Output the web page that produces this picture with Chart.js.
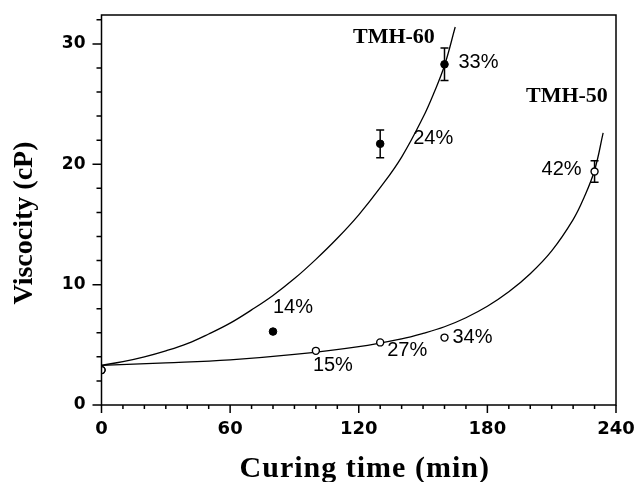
<!DOCTYPE html>
<html lang="en">
<head>
<meta charset="UTF-8">
<title>Viscosity vs curing time</title>
<script src="https://cdn.jsdelivr.net/npm/chart.js@4.4.1/dist/chart.umd.min.js"></script>
<style>
  body { margin: 0; background: #fff; }
  #wrap { width: 636px; height: 482px; }
</style>
</head>
<body>
<div id="wrap"><canvas id="visc" width="636" height="482"></canvas></div>
<script>
// measured viscosity (cP) against curing time (min)
const tmh60Time = [0, 80, 130, 160];
const tmh60Visc = [2.9, 6.1, 21.7, 28.3];
const tmh60Err  = [0, 0, 1.15, 1.35];
const tmh60Conv = ['', '14%', '24%', '33%'];

const tmh50Time = [0, 100, 130, 160, 230];
const tmh50Visc = [2.9, 4.5, 5.2, 5.6, 19.4];
const tmh50Err  = [0, 0, 0, 0, 0.9];
const tmh50Conv = ['', '15%', '27%', '34%', '42%'];

// fitted curves
const fit60Time = [0, 10, 20, 30, 40, 50, 60, 70, 80, 90, 100, 110, 120, 130, 140, 150, 155, 160, 165];
const fit60Visc = [3.3, 3.6, 4.0, 4.5, 5.1, 5.9, 6.8, 7.9, 9.1, 10.5, 12.1, 13.85, 15.8, 18.05, 20.6, 23.9, 25.9, 28.2, 31.4];
const fit50Time = [0, 30, 60, 90, 120, 140, 150, 160, 170, 180, 190, 200, 210, 220, 225, 230, 234];
const fit50Visc = [3.3, 3.5, 3.75, 4.2, 4.85, 5.5, 5.95, 6.5, 7.25, 8.2, 9.4, 10.9, 12.8, 15.4, 17.2, 19.5, 22.6];

const xTicks = [0, 60, 120, 180, 240];
const yTicks = [0, 10, 20, 30];

// label offsets in px from each point: [dx, dy, align]
const conv60Pos = [null, [0, -24, 'left'], [33, -5, 'left'], [14, -2, 'left']];
const conv50Pos = [null, [-3, 15, 'left'], [7, 8, 'left'], [8, 0, 'left'], [-13, -2, 'right']];

const pts = (xs, ys) => xs.map((x, i) => ({ x: x, y: ys[i] }));

const decor = {
  id: 'decor',
  beforeDatasetsDraw(chart) {
    const { ctx, scales: { x, y } } = chart;
    ctx.save();
    ctx.strokeStyle = '#000';
    ctx.lineWidth = 1.5;
    const bars = (xs, ys, es) => xs.forEach((t, i) => {
      if (!es[i]) return;
      const px = x.getPixelForValue(t);
      const top = y.getPixelForValue(ys[i] + es[i]);
      const bot = y.getPixelForValue(ys[i] - es[i]);
      ctx.beginPath();
      ctx.moveTo(px, top); ctx.lineTo(px, bot);
      ctx.moveTo(px - 4, top); ctx.lineTo(px + 4, top);
      ctx.moveTo(px - 4, bot); ctx.lineTo(px + 4, bot);
      ctx.stroke();
    });
    bars(tmh60Time, tmh60Visc, tmh60Err);
    bars(tmh50Time, tmh50Visc, tmh50Err);
    ctx.restore();
  },
  afterDraw(chart) {
    const { ctx, chartArea: a, scales: { x, y } } = chart;
    ctx.save();
    ctx.strokeStyle = '#000';
    ctx.fillStyle = '#000';
    ctx.lineWidth = 1.5;
    ctx.strokeRect(a.left, a.top, a.right - a.left, a.bottom - a.top);

    // tick marks, long on labelled values
    ctx.beginPath();
    for (let v = 0; v <= 240; v += 10) {
      const px = x.getPixelForValue(v);
      ctx.moveTo(px, a.bottom);
      ctx.lineTo(px, a.bottom + (v % 60 === 0 ? 8 : 4));
    }
    for (let v = 0; v <= 32; v += 2) {
      const py = y.getPixelForValue(v);
      ctx.moveTo(a.left, py);
      ctx.lineTo(a.left - (v % 10 === 0 ? 9 : 5), py);
    }
    ctx.stroke();

    // conversion labels
    ctx.font = '20px "Liberation Sans", Arial, sans-serif';
    ctx.textBaseline = 'middle';
    const conv = (xs, ys, labels, pos) => labels.forEach((s, i) => {
      if (!s) return;
      const p = pos[i];
      ctx.textAlign = p[2];
      ctx.fillText(s, x.getPixelForValue(xs[i]) + p[0], y.getPixelForValue(ys[i]) + p[1]);
    });
    conv(tmh60Time, tmh60Visc, tmh60Conv, conv60Pos);
    conv(tmh50Time, tmh50Visc, tmh50Conv, conv50Pos);

    // series names
    ctx.font = 'bold 22px "Liberation Serif", "Times New Roman", serif';
    ctx.textAlign = 'center';
    ctx.textBaseline = 'alphabetic';
    ctx.fillText('TMH-60', x.getPixelForValue(136.4), y.getPixelForValue(30.1));
    ctx.fillText('TMH-50', x.getPixelForValue(217.1), y.getPixelForValue(25.2));

    // axis titles
    ctx.font = 'bold 30px "Liberation Serif", "Times New Roman", serif';
    ctx.letterSpacing = '1px';
    ctx.fillText('Curing time (min)', (a.left + a.right) / 2 + 6, chart.height - 5);
    ctx.letterSpacing = '0px';
    ctx.font = 'bold 28px "Liberation Serif", "Times New Roman", serif';
    ctx.translate(32, (a.top + a.bottom) / 2 + 13);
    ctx.rotate(-Math.PI / 2);
    ctx.fillText('Viscocity (cP)', 0, 0);
    ctx.restore();
  }
};

new Chart(document.getElementById('visc'), {
  type: 'scatter',
  data: {
    datasets: [
      {
        label: 'TMH-50',
        data: pts(tmh50Time, tmh50Visc),
        pointRadius: 3.5,
        pointBackgroundColor: '#fff',
        pointBorderColor: '#000',
        pointBorderWidth: 1.4,
        clip: 0
      },
      {
        label: 'TMH-60',
        data: pts(tmh60Time, tmh60Visc),
        pointRadius: 3.8,
        pointBackgroundColor: '#000',
        pointBorderColor: '#000',
        pointBorderWidth: 1,
        clip: 0
      },
      {
        label: 'TMH-60 fit',
        data: pts(fit60Time, fit60Visc),
        showLine: true,
        pointRadius: 0,
        borderColor: '#000',
        borderWidth: 1.3,
        tension: 0.4,
        clip: 0
      },
      {
        label: 'TMH-50 fit',
        data: pts(fit50Time, fit50Visc),
        showLine: true,
        pointRadius: 0,
        borderColor: '#000',
        borderWidth: 1.3,
        tension: 0.4,
        clip: 0
      }
    ]
  },
  options: {
    responsive: false,
    animation: false,
    devicePixelRatio: 1,
    layout: { padding: { top: 15, right: 20, left: 0, bottom: 0 } },
    plugins: { legend: { display: false }, tooltip: { enabled: false } },
    scales: {
      x: {
        type: 'linear',
        min: 0,
        max: 240,
        grid: { display: false, drawTicks: false },
        border: { display: false },
        afterBuildTicks: s => { s.ticks = xTicks.map(v => ({ value: v })); },
        afterFit: s => { s.height = 77; s.paddingLeft = 0; s.paddingRight = 0; },
        ticks: {
          padding: 14,
          color: '#000',
          maxRotation: 0,
          font: { family: '"DejaVu Sans", sans-serif', weight: 'bold', size: 18 }
        }
      },
      y: {
        type: 'linear',
        min: 0,
        max: 32.4,
        grid: { display: false, drawTicks: false },
        border: { display: false },
        afterBuildTicks: s => { s.ticks = yTicks.map(v => ({ value: v })); },
        afterFit: s => { s.width = 101.5; s.paddingTop = 0; s.paddingBottom = 0; },
        ticks: {
          padding: 16,
          color: '#000',
          font: { family: '"DejaVu Sans", sans-serif', weight: 'bold', size: 17 }
        }
      }
    }
  },
  plugins: [decor]
});
</script>
</body>
</html>
